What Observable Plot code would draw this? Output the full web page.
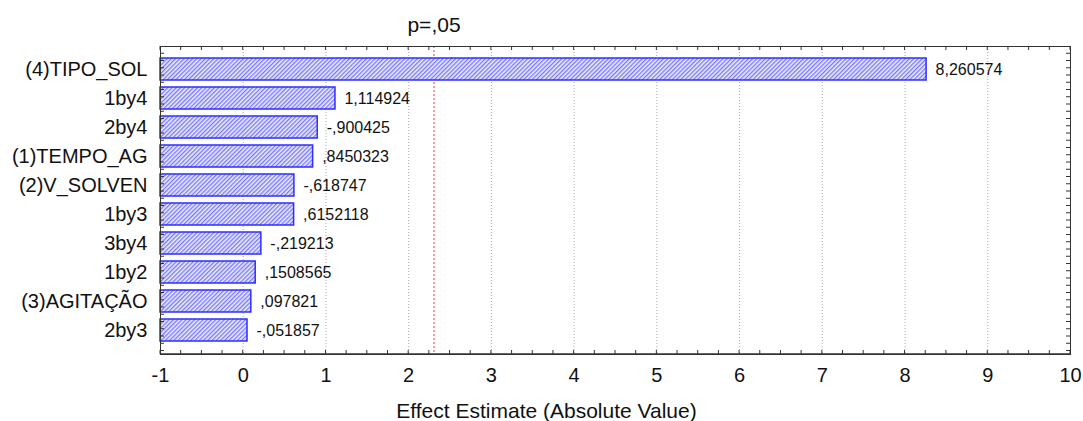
<!DOCTYPE html>
<html>
<head>
<meta charset="utf-8">
<script src="https://cdn.jsdelivr.net/npm/d3@7"></script>
<script src="https://cdn.jsdelivr.net/npm/@observablehq/plot@0.6"></script>
<style>
  html, body { margin: 0; padding: 0; background: #fff; }
</style>
</head>
<body>
<div id="chart"></div>
<script>
// Data
const categories = ["(4)TIPO_SOL", "1by4", "2by4", "(1)TEMPO_AG", "(2)V_SOLVEN", "1by3", "3by4", "1by2", "(3)AGITAÇÃO", "2by3"];
const effects = [8.260574, 1.114924, -0.900425, 0.8450323, -0.618747, 0.6152118, -0.219213, 0.1508565, 0.097821, -0.051857];
const pCritical = 2.306;
const pLabel = "p=,05";
const xTicks = [-1, 0, 1, 2, 3, 4, 5, 6, 7, 8, 9, 10];
const xLabel = "Effect Estimate (Absolute Value)";

(function () {
const fmt = v => String(v).replace(/^(-?)0\./, "$1.").replace(".", ",");
const data = categories.map((name, i) => ({
  name,
  abs: Math.abs(effects[i]),
  label: fmt(effects[i])
}));

const FONT = "'Liberation Sans', Arial, sans-serif";

const plot = Plot.plot({
  width: 1083,
  height: 421,
  marginLeft: 160,
  marginRight: 13,
  marginTop: 46,
  marginBottom: 67,
  style: { fontFamily: FONT, background: "#fff", color: "#111" },
  x: { domain: [-1, 10] },
  y: { domain: categories, paddingInner: 0.23, paddingOuter: 0.34 },
  marks: [
    Plot.gridX(xTicks.slice(1, -1), { stroke: "#aaa", strokeOpacity: 1, strokeDasharray: "1,2" }),
    Plot.ruleX([pCritical], { stroke: "#e03a3a", strokeWidth: 1, strokeDasharray: "2,2" }),
    Plot.barX(data, { y: "name", x1: -1, x2: "abs", fill: "url(#hatch)", stroke: "#2e2eff", strokeWidth: 1.5 }),
    Plot.text(data, { y: "name", x: "abs", text: "label", dx: 9, textAnchor: "start", fontSize: 16, fill: "#111" }),
    Plot.axisY({ tickSize: 0, tickPadding: 13, fontSize: 20, label: null }),
    Plot.axisX(xTicks, { tickSize: 0, tickPadding: 13, fontSize: 20, tickFormat: d => String(d), label: null }),
    Plot.frame({ stroke: "#333" }),
    Plot.text([{ x: pCritical, t: pLabel }], { x: "x", text: "t", frameAnchor: "top", lineAnchor: "middle", dy: -21, fontSize: 21, fill: "#111" }),
    Plot.text([xLabel], { text: d => d, frameAnchor: "bottom", lineAnchor: "middle", dy: 57, dx: -69, fontSize: 21, fill: "#111" })
  ]
});

// hatch pattern for bars
const svg = d3.select(plot);
const defs = svg.insert("defs", ":first-child");
const pat = defs.append("pattern")
  .attr("id", "hatch")
  .attr("patternUnits", "userSpaceOnUse")
  .attr("width", 3)
  .attr("height", 3)
  .attr("patternTransform", "rotate(45)");
pat.append("rect").attr("width", 3).attr("height", 3).attr("fill", "#eeeeff");
pat.append("line").attr("x1", 0.75).attr("y1", 0).attr("x2", 0.75).attr("y2", 3)
  .attr("stroke", "#5a5aff").attr("stroke-width", 1.1);

// inward minor ticks on the frame
const xs = plot.scale("x");
const ys = plot.scale("y");
const x0 = xs.apply(-1), x1 = xs.apply(10);
const yTop = 46, yBottom = 421 - 67;
const g = svg.append("g").attr("stroke", "#333").attr("stroke-width", 1);
for (let v = -1; v <= 10.001; v += 0.25) {
  const x = xs.apply(v);
  g.append("line").attr("x1", x).attr("x2", x).attr("y1", yBottom).attr("y2", yBottom - 4);
  g.append("line").attr("x1", x).attr("x2", x).attr("y1", yTop).attr("y2", yTop + 4);
}
const step = ys.apply(categories[1]) - ys.apply(categories[0]);
for (let y = yTop + step / 4; y < yBottom - 1; y += step / 4) {
  g.append("line").attr("x1", x0).attr("x2", x0 + 4).attr("y1", y).attr("y2", y);
  g.append("line").attr("x1", x1).attr("x2", x1 - 4).attr("y1", y).attr("y2", y);
}
g.append("line").attr("x1", x0).attr("x2", x1).attr("y1", yBottom).attr("y2", yBottom).attr("stroke-width", 1.5);

document.getElementById("chart").appendChild(plot);
})();
</script>
</body>
</html>
